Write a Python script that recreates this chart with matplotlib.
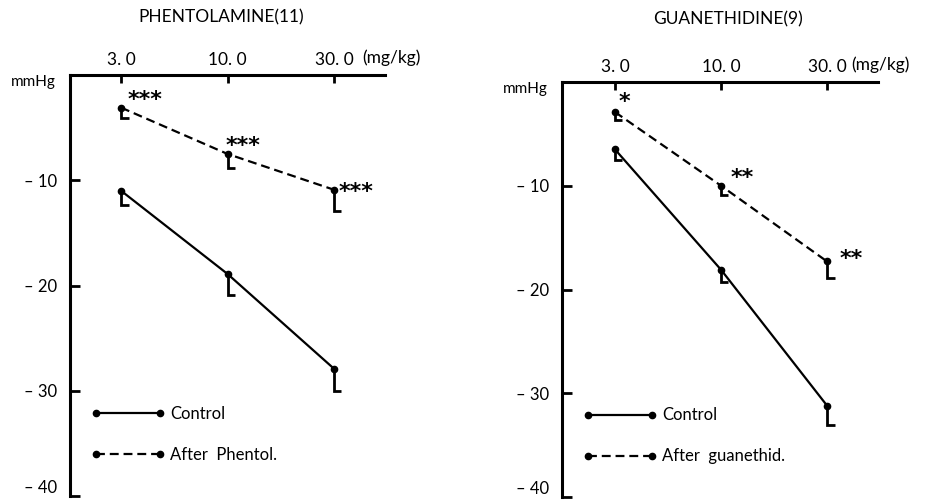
import matplotlib
matplotlib.use("Agg")
import matplotlib.pyplot as plt
from matplotlib.ticker import FuncFormatter

plt.rcParams['font.family'] = ['Lato', 'DejaVu Sans']

# Dose groups (equally spaced on the x axis)
doses = ["3. 0", "10. 0", "30. 0"]
x_pos = [0, 1, 2]
y_ticks = [-40, -30, -20, -10]

# Phentolamine panel (n=11)
phen_control = [-11.0, -18.9, -27.9]
phen_control_se = [1.35, 2.0, 2.1]
phen_after = [-3.1, -7.5, -10.9]
phen_after_se = [1.0, 1.3, 2.0]
phen_stars = ["***", "***", "***"]

# Guanethidine panel (n=9)
guan_control = [-6.5, -18.1, -31.2]
guan_control_se = [1.0, 1.2, 1.9]
guan_after = [-2.9, -10.0, -17.3]
guan_after_se = [0.8, 0.9, 1.6]
guan_stars = ["*", "**", "**"]

fig = plt.figure(figsize=(9.31, 5.01), dpi=100)
ax1 = fig.add_axes([70/931, 5/501, 315/931, 421/501])
ax2 = fig.add_axes([562/931, 4/501, 316/931, 415/501])


# Draw an "L" shaped error bar: down from the point, with a foot to the right
def l_errorbar(ax, xs, ys, ses, foot=0.07):
    for x, y, se in zip(xs, ys, ses):
        ax.plot([x, x, x + foot], [y, y - se, y - se], color="black", lw=2,
                solid_capstyle="butt", solid_joinstyle="miter", zorder=3)


def panel(ax, control, control_se, after, after_se, stars, star_offsets,
          after_label, xlim, unit_x):
    ax.plot(x_pos, control, color="black", lw=1.6, marker="o", ms=4.5,
            label="Control", zorder=4)
    ax.plot(x_pos, after, color="black", lw=1.6, ls=(0, (4, 2.2)), marker="o",
            ms=4.5, label=after_label, zorder=4)
    l_errorbar(ax, x_pos, control, control_se)
    l_errorbar(ax, x_pos, after, after_se)

    for x, y, s, off in zip(x_pos, after, stars, star_offsets):
        ax.annotate(s, xy=(x, y), xytext=off, textcoords="offset points",
                    ha="center", va="center_baseline", fontsize=16,
                    fontweight="bold", family="DejaVu Sans")

    ax.set_xlim(*xlim)
    ax.set_ylim(-40, 0)
    ax.set_xticks(x_pos)
    ax.set_xticklabels(doses)
    ax.set_yticks(y_ticks)
    ax.yaxis.set_major_formatter(FuncFormatter(lambda v, p: f"– {abs(v):g}"))
    ax.xaxis.tick_top()
    ax.tick_params(axis="x", direction="in", length=6, width=2, pad=5,
                   labelsize=12.5)
    ax.tick_params(axis="y", direction="in", length=7, width=2, pad=9,
                   labelsize=12)
    # bottom label sits above its tick, as in the original
    ax.get_yticklabels()[0].set_verticalalignment("bottom")
    for side in ["right", "bottom"]:
        ax.spines[side].set_visible(False)
    for side in ["top", "left"]:
        ax.spines[side].set_linewidth(2.2)

    ax.annotate("(mg/kg)", xy=(unit_x, 1.0),
                xycoords=("data", "axes fraction"), xytext=(0, 12.5),
                textcoords="offset points", ha="left", va="center",
                fontsize=12.5)
    ax.text(-0.045, 1.0, "mmHg", transform=ax.transAxes, ha="right",
            va="top", fontsize=11)

    ax.legend(loc="center left", bbox_to_anchor=(0.068, 0.147),
              frameon=False, numpoints=2, handlelength=4.4,
              handletextpad=0.3, labelspacing=1.5, borderpad=0,
              borderaxespad=0, fontsize=12)


panel(ax1, phen_control, phen_control_se, phen_after, phen_after_se,
      phen_stars, [(17, 7), (11.5, 7), (16, 0)], "After  Phentol.",
      (-0.48, 2.48), 2.27)
panel(ax2, guan_control, guan_control_se, guan_after, guan_after_se,
      guan_stars, [(6.5, 8.6), (15, 7), (17, 3)], "After  guanethid.",
      (-0.5, 2.48), 2.23)

fig.text(221/931, 1 - 17/501, "PHENTOLAMINE(11)", ha="center", va="center",
         fontsize=12.5)
fig.text(728/931, 1 - 19/501, "GUANETHIDINE(9)", ha="center", va="center",
         fontsize=12.5)

fig.savefig("out.png", dpi=100, facecolor="white")
